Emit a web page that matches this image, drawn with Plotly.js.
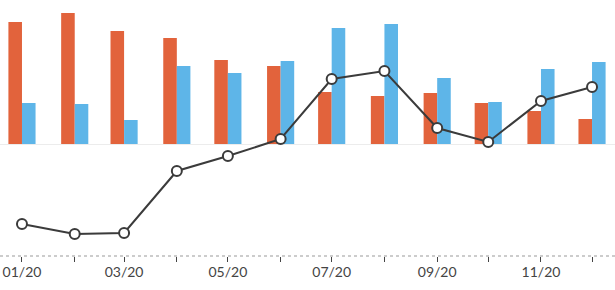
<!DOCTYPE html>
<html>
<head>
<meta charset="utf-8">
<script src="https://cdn.plot.ly/plotly-3.0.1.min.js"></script>
<style>html,body{margin:0;padding:0;background:#fff;}#chart{width:615px;height:290px;}</style>
</head>
<body>
<div id="chart"></div>
<script>
const months = ['2020-01-01','2020-02-01','2020-03-01','2020-04-01','2020-05-01','2020-06-01','2020-07-01','2020-08-01','2020-09-01','2020-10-01','2020-11-01','2020-12-01'];
const tickLabels = ['01/20','','03/20','','05/20','','07/20','','09/20','','11/20',''];
const orangeValues = [122, 131, 113, 106, 84, 78, 52, 48, 51, 41, 33, 25];
const blueValues = [41, 40, 24, 78, 71, 83, 116, 120, 66, 42, 75, 82];
const lineValues = [-80, -90, -89, -27, -12, 5, 65, 73, 16, 2, 43, 57];

const traces = [
  {type:'bar', x:months, y:orangeValues, marker:{color:'#e2633c'}, hoverinfo:'skip'},
  {type:'bar', x:months, y:blueValues, marker:{color:'#5eb5e8'}, hoverinfo:'skip'},
  {type:'scatter', mode:'lines+markers', x:months, y:lineValues, cliponaxis:false,
   line:{color:'#3b3b3b', width:2},
   marker:{symbol:'circle', size:10, color:'#ffffff', line:{color:'#3b3b3b', width:2}}, hoverinfo:'skip'}
];

const layout = {
  width:615, height:290,
  margin:{l:0, r:0, t:0, b:34},
  paper_bgcolor:'#ffffff', plot_bgcolor:'#ffffff',
  showlegend:false,
  barmode:'group', bargap:0.45, bargroupgap:0,
  font:{family:'Lato, sans-serif', color:'#444444'},
  xaxis:{type:'date', range:['2019-12-19 02:00','2020-12-14 12:00'],
    tickmode:'array', tickvals:months, ticktext:tickLabels,
    ticks:'outside', ticklen:5, tickwidth:1, tickcolor:'#444444',
    ticklabelstandoff:-2,
    showgrid:false, zeroline:false, showline:false,
    tickfont:{family:'Lato, sans-serif', size:14, color:'#444444'}},
  yaxis:{range:[-112, 144], showgrid:false, showticklabels:false, ticks:'',
    zeroline:true, zerolinecolor:'#ececec', zerolinewidth:1, showline:false},
  shapes:[{type:'line', xref:'paper', yref:'paper', x0:0, x1:1, y0:0, y1:0,
    line:{color:'#999999', width:1, dash:'dot'}, layer:'below'}]
};

Plotly.newPlot('chart', traces, layout, {staticPlot:true, displayModeBar:false});
</script>
</body>
</html>
